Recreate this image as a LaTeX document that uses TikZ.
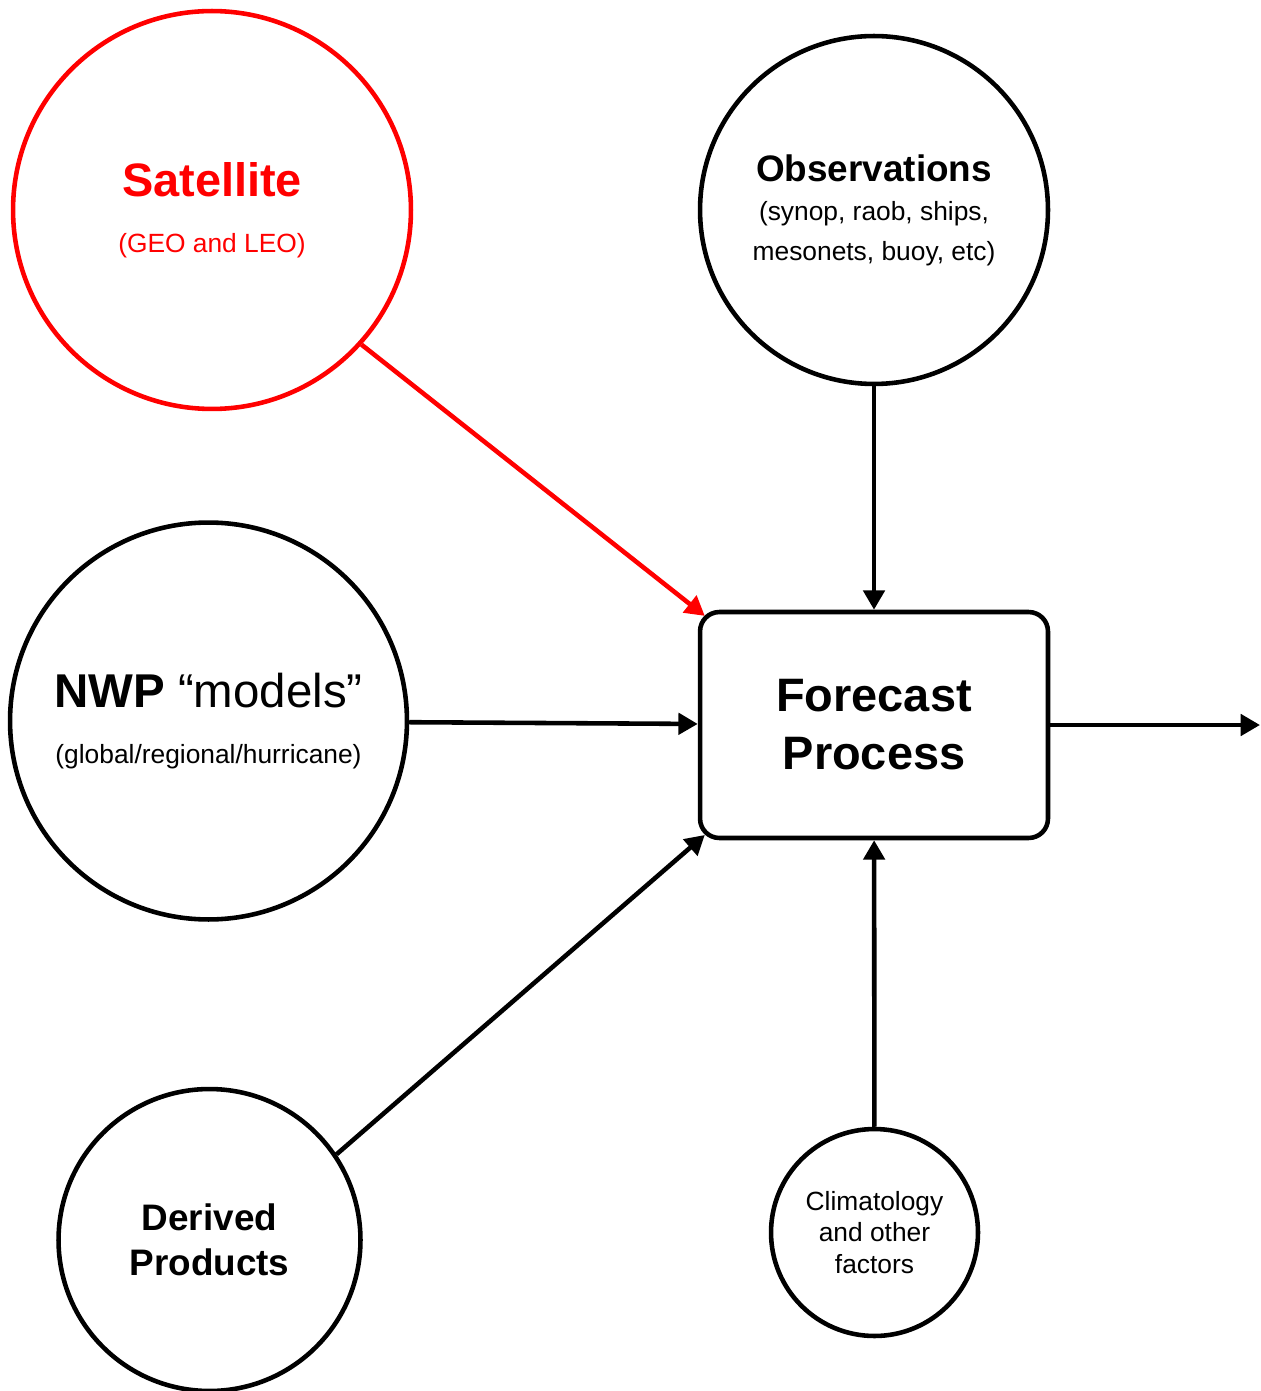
\documentclass[tikz,border=0pt]{standalone}
\usepackage{fontspec}
\setmainfont{Liberation Sans}
\usetikzlibrary{arrows.meta}

\begin{document}
\begin{tikzpicture}[x = 0.02cm, y = -0.02cm]
\tikzstyle{CircleStyle}=[shape = circle,
                         draw,
                         line width = 2.6pt,
                         inner sep = 0pt,
                         align = center]
\tikzstyle{BoxStyle}=[shape = rectangle,
                      draw,
                      line width = 2.6pt,
                      rounded corners = 11pt,
                      align = center,
                      minimum width = 6.96cm,
                      minimum height = 4.52cm]
\tikzstyle{feed}=[line width = 2.6pt, -{Triangle[length = 11pt, width = 12pt]}]
\useasboundingbox (0,0) rectangle (1260,1391);
\node[CircleStyle, draw = red, text = red, minimum size = 7.96cm, font = \fontsize{15}{31.8}\selectfont] (sat) at (212,210) {{\fontsize{26.7}{30}\selectfont\bfseries Satellite}\\(GEO and LEO)};
\node[CircleStyle, minimum size = 6.96cm, font = \fontsize{15}{22.5}\selectfont] (obs) at (874,210) {{\fontsize{21}{25}\selectfont\bfseries Observations}\\(synop, raob, ships,\\mesonets, buoy, etc)};
\node[CircleStyle, minimum size = 7.94cm, font = \fontsize{15}{32.3}\selectfont] (nwp) at (208.5,721) {{\fontsize{27}{30}\selectfont\textbf{NWP} “models”}\\(global/regional/hurricane)};
\node[CircleStyle, minimum size = 6.04cm, font = \fontsize{21}{25.5}\selectfont\bfseries] (dp) at (209.5,1240) {Derived\\Products};
\node[CircleStyle, minimum size = 4.14cm, font = \fontsize{15}{18}\selectfont] (clim) at (874.5,1232.5) {Climatology\\and other\\factors};
\node[BoxStyle, font = \fontsize{26.7}{33}\selectfont\bfseries] (fp) at (874,725) {Forecast\\Process};
\coordinate (out) at (1260,725);
\draw[feed, red] (sat.-42) -- ([xshift = 4pt, yshift = -3.5pt]fp.north west);
\draw[feed] (obs) -- (fp);
\draw[feed] (nwp) -- (fp);
\draw[feed] (dp.34) -- ([xshift = 4pt, yshift = 3pt]fp.south west);
\draw[feed] (clim) -- (fp);
\draw[feed] (fp) -- (out);
\end{tikzpicture}
\end{document}
